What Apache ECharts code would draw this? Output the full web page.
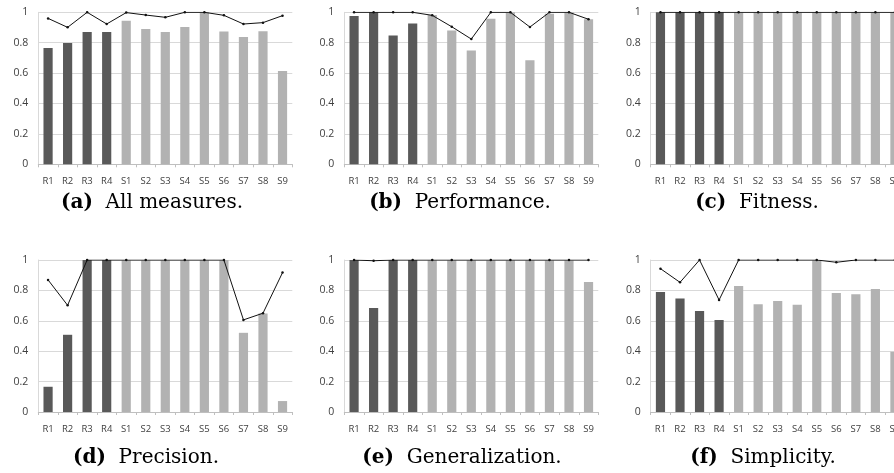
<!DOCTYPE html>
<html><head><meta charset="utf-8">
<script src="https://cdn.jsdelivr.net/npm/echarts@6/dist/echarts.min.js"></script>
<style>html,body{margin:0;padding:0;background:#fff}#c{width:894px;height:473px}</style>
</head><body><div id="c"></div>
<script>
var categories = ['R1','R2','R3','R4','S1','S2','S3','S4','S5','S6','S7','S8','S9'];
var yTicks = [0, 0.2, 0.4, 0.6, 0.8, 1];
var captions = ['All measures.','Performance.','Fitness.','Precision.','Generalization.','Simplicity.'];
var captionTags = ['(a)','(b)','(c)','(d)','(e)','(f)'];
var barsAll = [0.765,0.798,0.870,0.870,0.945,0.890,0.870,0.903,1.0,0.873,0.837,0.875,0.613];
var lineAll = [0.960,0.901,1.0,0.923,0.998,0.982,0.967,1.0,1.0,0.980,0.923,0.932,0.978];
var barsPerf = [0.976,1.0,0.848,0.927,0.982,0.881,0.749,0.958,1.0,0.684,0.991,1.0,0.954];
var linePerf = [1.0,1.0,1.0,1.0,0.980,0.905,0.824,1.0,1.0,0.903,1.0,1.0,0.954];
var barsFit = [1,1,1,1,1,1,1,1,1,1,1,1,1];
var lineFit = [1,1,1,1,1,1,1,1,1,1,1,1,1];
var barsPrec = [0.166,0.508,1.0,1.0,1.0,1.0,1.0,1.0,1.0,1.0,0.521,0.648,0.072];
var linePrec = [0.869,0.702,1.0,1.0,1.0,1.0,1.0,1.0,1.0,1.0,0.606,0.650,0.917];
var barsGen = [1.0,0.685,1.0,1.0,1.0,1.0,1.0,1.0,1.0,1.0,1.0,1.0,0.856];
var lineGen = [1.0,0.995,1.0,1.0,1.0,1.0,1.0,1.0,1.0,1.0,1.0,1.0,1.0];
var barsSimp = [0.790,0.746,0.665,0.606,0.829,0.709,0.731,0.705,1.0,0.783,0.775,0.810,0.396];
var lineSimp = [0.943,0.853,1.0,0.737,1.0,1.0,1.0,1.0,1.0,0.985,1.0,1.0,1.0];

var panelBars = [barsAll, barsPerf, barsFit, barsPrec, barsGen, barsSimp];
var panelLines = [lineAll, linePerf, lineFit, linePrec, lineGen, lineSimp];

var gridLefts = [38.3, 344.3, 650.7];
var gridWidth = 254;
var rowTops = [12.3, 260];
var plotH = 152;
var capX = [[152, 460, 757], [146, 462, 763]];
var capY = [203, 458];

var DARK = '#595959', LIGHT = '#b2b2b2';
var option = {animation:false, grid:[], xAxis:[], yAxis:[], series:[], graphic:[]};
for (var p = 0; p < 6; p++) {
  var r = Math.floor(p/3), c = p%3;
  option.grid.push({left: gridLefts[c], width: gridWidth, top: rowTops[r], height: plotH, outerBoundsMode:'none'});
  option.xAxis.push({type:'category', gridIndex:p, data: categories,
    axisLine:{lineStyle:{color:'#bfbfbf', width:1}},
    axisTick:{show:true, length:3, lineStyle:{color:'#bfbfbf'}},
    axisLabel:{color:'#404040', fontFamily:'Open Sans', fontSize:9.5, margin:12, interval:0}});
  option.yAxis.push({type:'value', gridIndex:p, min:yTicks[0], max:yTicks[yTicks.length-1], interval:0.2,
    axisLine:{show:true, lineStyle:{color:'#d9d9d9'}}, axisTick:{show:false},
    splitLine:{lineStyle:{color:'#d9d9d9', width:1}},
    axisLabel:{color:'#404040', fontFamily:'Open Sans', fontSize:10.5, margin:10}});
  option.series.push({type:'bar', xAxisIndex:p, yAxisIndex:p, barWidth:'47%',
    data: panelBars[p].map(function(v,i){return {value:v, itemStyle:{color: i<4?DARK:LIGHT}};})});
  option.series.push({type:'line', xAxisIndex:p, yAxisIndex:p, data: panelLines[p],
    symbol:'circle', symbolSize:2.5, itemStyle:{color:'#111'}, lineStyle:{color:'#111', width:1}, z:5});
  option.graphic.push({type:'text', x: capX[r][c], y: capY[r], style:{
    text:'{b|' + captionTags[p] + '}  ' + captions[p], align:'center', verticalAlign:'middle',
    fontFamily:'DejaVu Serif', fontSize:20, fill:'#000',
    rich:{b:{fontWeight:'bold', fontFamily:'DejaVu Serif', fontSize:20, fill:'#000'}}}});
}
var chart = echarts.init(document.getElementById('c'), null, {renderer:'canvas'});
chart.setOption(option);
</script></body></html>
